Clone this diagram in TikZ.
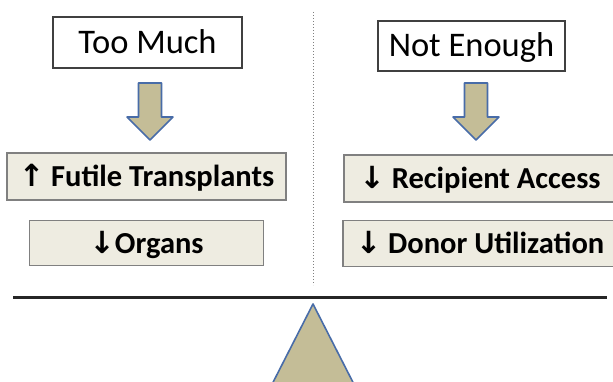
\documentclass[tikz,border=0pt]{standalone}
\usepackage{fontspec}
\setmainfont{Carlito}
\newfontfamily\arrowfont{DejaVu Sans}
\usepackage{tikz}
\usetikzlibrary{positioning}
\definecolor{boxfill}{RGB}{238,236,225}
\definecolor{tan}{RGB}{196,189,151}
\definecolor{tanedge}{RGB}{72,108,168}
\tikzset{
  every node/.style={
    inner sep=0pt,
    text depth=0pt,
    align=center
  },
  amount/.style n args={2}{
    shape=rectangle,
    draw=black!75,
    line width=1.2pt,
    fill=white,
    font=\fontsize{34.5}{38}\selectfont,
    text height=22pt,
    minimum width=#1,
    minimum height=#2
  },
  effect/.style n args={2}{
    shape=rectangle,
    draw=black!50,
    line width=1.6pt,
    fill=boxfill,
    font=\fontsize{30.5}{34}\selectfont\bfseries,
    text height=20pt,
    minimum width=#1,
    minimum height=#2
  },
  pointer/.style={
    draw=tanedge,
    line width=1.6pt,
    line join=round,
    fill=tan
  },
  downarrow/.pic={
    \draw[pointer] (-11.5,28.5) -- (-11.5,-5.5) -- (-23,-5.5) -- (0,-28.5)
      -- (23,-5.5) -- (11.5,-5.5) -- (11.5,28.5) -- cycle;
  }
}
\begin{document}
\begin{tikzpicture}[x=1pt,y=1pt]
    \clip (0,0) rectangle (613,382);
    \fill[white] (0,0) rectangle (613,382);
    \draw[black!50, line width=1pt, dotted] (313,370) -- (313,97);
    \node [amount={189pt}{51pt}] (toomuch) at (147.5,339.5) {Too Much};
    \node [amount={187pt}{50pt}] (notenough) at (471.5,336) {Not Enough};
    \node [effect={279pt}{47pt}] (futile) at (146.5,205.5) {{\arrowfont ↑} Futile Transplants};
    \node [effect={234pt}{45pt}, below=19pt of futile] (organs) {{\arrowfont ↓}Organs};
    \node [effect={272pt}{47pt}] (recipient) at (480,203.5) {{\arrowfont ↓} Recipient Access};
    \node [effect={274pt}{46pt}, below=17pt of recipient] (donor) {{\arrowfont ↓} Donor Utilization};
    \pic at (150,270.5) {downarrow};
    \pic at (476,270.5) {downarrow};
    \coordinate (beamleft) at (13,84);
    \coordinate (beamright) at (607,84);
    \draw[black!85, line width=3pt] (beamleft) -- (beamright);
    \draw[pointer] (313,78) -- (362,-18) -- (264,-18) -- cycle;
\end{tikzpicture}
\end{document}
